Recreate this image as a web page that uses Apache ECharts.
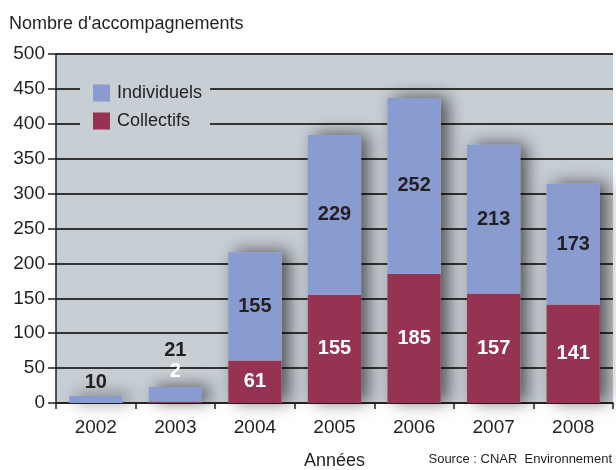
<!DOCTYPE html>
<html>
<head>
<meta charset="utf-8">
<script src="https://cdn.jsdelivr.net/npm/echarts@6/dist/echarts.min.js"></script>
<style>
  html, body { margin: 0; padding: 0; background: #fff; }
  #chart { width: 616px; height: 470px; }
</style>
</head>
<body>
<div id="chart"></div>
<script>
var years = ['2002', '2003', '2004', '2005', '2006', '2007', '2008'];
var individuels = [10, 21, 155, 229, 252, 213, 173];
var collectifs = [0, 2, 61, 155, 185, 157, 141];
var yTicks = [0, 50, 100, 150, 200, 250, 300, 350, 400, 450, 500];

var FONT = "'Liberation Sans', Arial, sans-serif";
var TEXT = '#231f20';
var BG = '#c7ced4';

var chart = echarts.init(document.getElementById('chart'));

// small bars get their label above the bar
var indData = individuels.map(function (v, i) {
    var item = { value: v };
    if (i === 0) item.label = { position: 'top', distance: 4 };
    if (i === 1) item.label = { position: 'top', distance: 26 };
    return item;
});
var colData = collectifs.map(function (v, i) {
    var item = { value: v };
    if (v === 0) item.label = { show: false };
    if (i === 1) item.label = { position: 'top', distance: 20 };
    return item;
});
var totals = individuels.map(function (v, i) { return v + collectifs[i]; });

var option = {
    animation: false,
    textStyle: { fontFamily: FONT },
    title: {
        text: "Nombre d'accompagnements",
        left: 4, top: 10,
        textStyle: { fontFamily: FONT, fontSize: 18, fontWeight: 'normal', color: TEXT }
    },
    graphic: [{
        type: 'text', right: 4, top: 453,
        style: { text: 'Source : CNAR  Environnement', font: '13px ' + FONT, fill: TEXT }
    }],
    legend: {
        data: ['Individuels', 'Collectifs'],
        orient: 'vertical',
        left: 80, top: 74,
        padding: [10, 8, 8, 13],
        itemGap: 10,
        itemWidth: 17, itemHeight: 17,
        icon: 'rect',
        backgroundColor: BG,
        textStyle: { fontFamily: FONT, fontSize: 18, color: TEXT, padding: [0, 0, 0, 2] }
    },
    grid: {
        left: 56, right: 3, top: 54, bottom: 67,
        outerBoundsMode: 'none',
        containLabel: false,
        show: true, backgroundColor: BG, borderWidth: 0
    },
    xAxis: {
        type: 'category',
        data: years,
        name: 'Années',
        nameLocation: 'middle',
        nameGap: 49,
        nameTextStyle: { fontFamily: FONT, fontSize: 18, color: TEXT },
        axisLine: { lineStyle: { color: '#222', width: 1.5 } },
        axisTick: { show: true, length: 6, lineStyle: { color: '#222', width: 1.5 } },
        axisLabel: { fontFamily: FONT, fontSize: 19, color: TEXT, margin: 15 }
    },
    yAxis: {
        type: 'value',
        min: yTicks[0], max: yTicks[yTicks.length - 1], interval: 50,
        axisLine: { show: true, lineStyle: { color: '#222', width: 1.5 } },
        axisTick: { show: true, length: 8, lineStyle: { color: '#222', width: 1.5 } },
        axisLabel: { fontFamily: FONT, fontSize: 19, color: TEXT, margin: 11 },
        splitLine: { lineStyle: { color: '#333', width: 1.8 } }
    },
    series: [
        {
            name: 'ombre',
            type: 'bar',
            data: totals,
            barWidth: '67%',
            barGap: '-100%',
            silent: true,
            z: 1,
            itemStyle: {
                color: BG,
                shadowBlur: 16,
                shadowColor: 'rgba(0,0,0,0.6)',
                shadowOffsetX: 7,
                shadowOffsetY: -1
            }
        },
        {
            name: 'Collectifs',
            type: 'bar',
            stack: 'total',
            data: colData,
            barWidth: '67%',
            z: 3,
            itemStyle: { color: '#963352' },
            label: {
                show: true, position: 'inside',
                fontFamily: FONT, fontSize: 20, fontWeight: 'bold', color: '#fff'
            }
        },
        {
            name: 'Individuels',
            type: 'bar',
            stack: 'total',
            data: indData,
            barWidth: '67%',
            z: 3,
            itemStyle: { color: '#8a9bcf' },
            label: {
                show: true, position: 'inside',
                fontFamily: FONT, fontSize: 20, fontWeight: 'bold', color: TEXT
            }
        }
    ]
};

chart.setOption(option);
</script>
</body>
</html>
